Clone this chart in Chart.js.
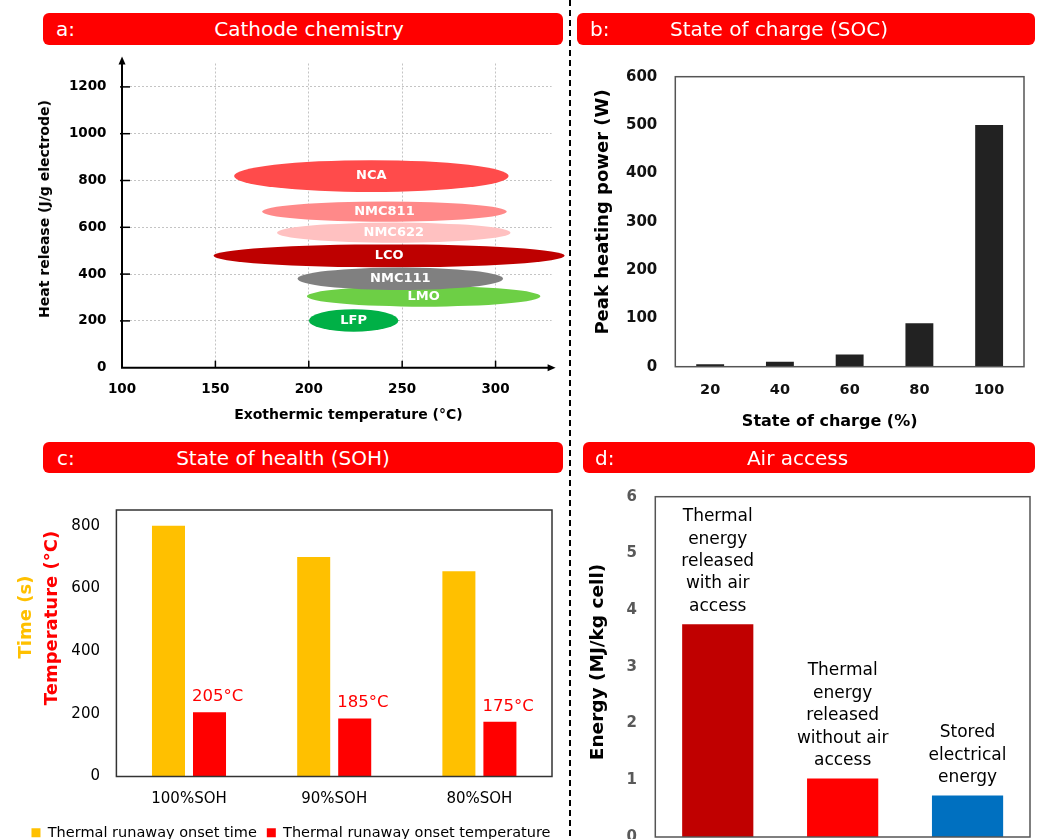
<!DOCTYPE html>
<html><head><meta charset="utf-8">
<script src="https://cdn.jsdelivr.net/npm/chart.js@4.4.1/dist/chart.umd.min.js"></script>
<style>
html,body{margin:0;padding:0;background:#fff;}
body{width:1038px;height:839px;position:relative;overflow:hidden;font-family:"DejaVu Sans",sans-serif;}
canvas{position:absolute;}
.hdr{position:absolute;background:#FF0000;border-radius:6px;}
.txt{position:absolute;white-space:nowrap;line-height:1;}
.hl{color:#fff;font-size:20px;transform:translateY(-50%);}
.ht{color:#fff;font-size:20px;transform:translate(-50%,-50%);}
.rot{transform:translate(-50%,-50%) rotate(-90deg);font-weight:bold;color:#000;}
.hz{transform:translate(-50%,-50%);font-weight:bold;color:#000;}
#dv{position:absolute;left:569px;top:0;width:2px;height:839px;background:repeating-linear-gradient(to bottom,#000 0 6px,transparent 6px 10px);}
</style></head><body>
<canvas id="ca" width="570" height="440" style="left:0;top:0;width:570px;height:440px"></canvas>
<canvas id="cb" width="468" height="440" style="left:570px;top:0;width:468px;height:440px"></canvas>
<canvas id="cc" width="570" height="410" style="left:0;top:440px;width:570px;height:410px"></canvas>
<canvas id="cd" width="468" height="399" style="left:570px;top:440px;width:468px;height:399px"></canvas>

<div id="dv"></div>
<div class="hdr" style="left:43px;top:13px;width:520px;height:32px"></div>
<div class="txt hl" style="left:56px;top:29px">a:</div>
<div class="txt ht" style="left:309px;top:29px">Cathode chemistry</div>
<div class="hdr" style="left:577px;top:13px;width:458px;height:32px"></div>
<div class="txt hl" style="left:590px;top:29px">b:</div>
<div class="txt ht" style="left:779px;top:29px">State of charge (SOC)</div>
<div class="hdr" style="left:43px;top:442px;width:520px;height:31px"></div>
<div class="txt hl" style="left:57px;top:457.5px">c:</div>
<div class="txt ht" style="left:283px;top:457.5px">State of health (SOH)</div>
<div class="hdr" style="left:583px;top:442px;width:452px;height:31px"></div>
<div class="txt hl" style="left:595px;top:457.5px">d:</div>
<div class="txt ht" style="left:797.5px;top:457.5px">Air access</div>

<div class="txt rot" style="left:43.6px;top:208.5px;font-size:14px">Heat release (J/g electrode)</div>
<div class="txt hz" style="left:348.4px;top:414px;font-size:14px">Exothermic temperature (°C)</div>
<div class="txt rot" style="left:601.7px;top:211.7px;font-size:18px">Peak heating power (W)</div>
<div class="txt hz" style="left:829.7px;top:420.7px;font-size:16px">State of charge (%)</div>
<div class="txt rot" style="left:24.7px;top:616.7px;font-size:18px;color:#FFC000">Time (s)</div>
<div class="txt rot" style="left:51px;top:617.5px;font-size:18px;color:#FF0000">Temperature (°C)</div>
<div class="txt rot" style="left:596.7px;top:661.7px;font-size:18.5px">Energy (MJ/kg cell)</div>

<script>
// ---- data ----
const cathodes = ['NCA','NMC811','NMC622','LCO','NMC111','LMO','LFP'];
const tempLow  = [160,175,183,149,194,199,200];
const tempHigh = [307,306,308,337,304,324,248];
const heatLow  = [751,624,534,429,332,261,154];
const heatHigh = [887,710,620,527,428,349,250];
const cathodeColors = ['#FF4B4B','#FF8989','#FFC1C1','#BE0000','#808080','#6DCF45','#00B046'];
const drawOrder = [0,1,2,3,5,4,6];
const aXTicks = [100,150,200,250,300];
const aYTicks = [0,200,400,600,800,1000,1200];

const socLabels = ['20','40','60','80','100'];
const peakPower = [5,10,25,90,500];
const bYTicks = [0,100,200,300,400,500,600];

const sohLabels = ['100%SOH','90%SOH','80%SOH'];
const onsetTime = [800,700,655];
const onsetTemp = [205,185,175];
const cYTicks = [0,200,400,600,800];

const energyLabels = [['Thermal','energy','released','with air','access'],['Thermal','energy','released','without air','access'],['Stored','electrical','energy']];
const energyValues = [3.75,1.03,0.73];
const energyColors = ['#C00000','#FF0000','#0070C0'];
const dYTicks = [0,1,2,3,4,5,6];

// ---- helpers ----
Chart.defaults.font.family = '"DejaVu Sans", sans-serif';
const setTicks = vals => s => { s.ticks = vals.map(v => ({value: v})); };
const fixW = w => s => { s.width = w; s.paddingTop = 0; s.paddingBottom = 0; };
const fixH = h => s => { s.height = h; s.paddingLeft = 0; s.paddingRight = 0; };
const boxPlugin = (color, w) => ({id:'box', afterDraw(chart){
  const {ctx, chartArea:{left,top,right,bottom}} = chart;
  ctx.save(); ctx.strokeStyle = color; ctx.lineWidth = w;
  ctx.strokeRect(left, top, right-left, bottom-top); ctx.restore();
}});
const common = {responsive:false, animation:false, devicePixelRatio:1, events:[]};
const noGrid = {display:false, drawTicks:false};

// ---- panel a ----
const ellipsePlugin = {id:'ellipses', afterDatasetsDraw(chart){
  const {ctx, scales:{x, y}} = chart;
  ctx.save();
  drawOrder.forEach(i => {
    const x1 = x.getPixelForValue(tempLow[i]), x2 = x.getPixelForValue(tempHigh[i]);
    const y1 = y.getPixelForValue(heatHigh[i]), y2 = y.getPixelForValue(heatLow[i]);
    ctx.beginPath();
    ctx.ellipse((x1+x2)/2, (y1+y2)/2, (x2-x1)/2, (y2-y1)/2, 0, 0, Math.PI*2);
    ctx.fillStyle = cathodeColors[i]; ctx.fill();
  });
  ctx.font = 'bold 13px "DejaVu Sans"'; ctx.fillStyle = '#fff';
  ctx.textAlign = 'center'; ctx.textBaseline = 'middle';
  cathodes.forEach((c, i) => {
    const cx = x.getPixelForValue((tempLow[i]+tempHigh[i])/2);
    const cy = y.getPixelForValue((heatLow[i]+heatHigh[i])/2);
    ctx.fillText(c, cx, cy);
  });
  ctx.restore();
}};
const axesPlugin = {id:'axesArrows', afterDraw(chart){
  const {ctx, chartArea:{left, bottom}, scales:{x, y}} = chart;
  const top = y.getPixelForValue(1300) - 7;
  const right = x.getPixelForValue(330) + 4;
  ctx.save(); ctx.strokeStyle = '#000'; ctx.fillStyle = '#000'; ctx.lineWidth = 2;
  ctx.beginPath(); ctx.moveTo(left, bottom+1); ctx.lineTo(left, top+6);
  ctx.moveTo(left-1, bottom); ctx.lineTo(right-6, bottom); ctx.stroke();
  ctx.beginPath(); ctx.moveTo(left, top); ctx.lineTo(left-3.5, top+8); ctx.lineTo(left+3.5, top+8); ctx.closePath(); ctx.fill();
  ctx.beginPath(); ctx.moveTo(right, bottom); ctx.lineTo(right-8, bottom-3.5); ctx.lineTo(right-8, bottom+3.5); ctx.closePath(); ctx.fill();
  ctx.lineWidth = 1.5;
  aXTicks.slice(1).forEach(v => { const px = x.getPixelForValue(v); ctx.beginPath(); ctx.moveTo(px, bottom); ctx.lineTo(px, bottom-7); ctx.stroke(); });
  aYTicks.slice(1).forEach(v => { const py = y.getPixelForValue(v); ctx.beginPath(); ctx.moveTo(left-2, py); ctx.lineTo(left+8, py); ctx.stroke(); });
  ctx.restore();
}};
new Chart(document.getElementById('ca'), {
  type:'scatter',
  data:{datasets:[{data: cathodes.map((_, i) => ({x:(tempLow[i]+tempHigh[i])/2, y:(heatLow[i]+heatHigh[i])/2})), pointRadius:0}]},
  options: Object.assign({}, common, {
    layout:{padding:{top:63.5, right:18.4, left:0, bottom:0}},
    plugins:{legend:{display:false}, tooltip:{enabled:false}},
    scales:{
      x:{type:'linear', min:100, max:330, afterBuildTicks:setTicks(aXTicks), afterFit:fixH(72.3),
        grid:{color:'#c4c4c4', lineWidth:1, drawTicks:false}, border:{display:false, dash:[2,2]},
        ticks:{padding:13.5, color:'#000', callback:v=>String(v), font:{weight:'bold', size:13.5}}},
      y:{type:'linear', min:0, max:1300, afterBuildTicks:setTicks(aYTicks), afterFit:fixW(122),
        grid:{color:'#c4c4c4', lineWidth:1, drawTicks:false}, border:{display:false, dash:[2,2]},
        ticks:{padding:15.5, color:'#000', callback:v=>String(v), font:{weight:'bold', size:13.5}}}
    }
  }),
  plugins:[ellipsePlugin, axesPlugin]
});

// ---- panel b ----
new Chart(document.getElementById('cb'), {
  type:'bar',
  data:{labels:socLabels, datasets:[{data:peakPower, backgroundColor:'#222222', categoryPercentage:1, barPercentage:0.4}]},
  options: Object.assign({}, common, {
    layout:{padding:{top:76.7, right:14, left:0, bottom:0}},
    plugins:{legend:{display:false}, tooltip:{enabled:false}},
    scales:{
      x:{afterFit:fixH(73.3), grid:noGrid, border:{display:false},
        ticks:{padding:14.6, color:'#111', font:{weight:'bold', size:14.5}}},
      y:{min:0, max:600, afterBuildTicks:setTicks(bYTicks), afterFit:fixW(105.3), grid:noGrid, border:{display:false},
        ticks:{padding:18, color:'#111', font:{weight:'bold', size:15}}}
    }
  }),
  plugins:[boxPlugin('#555', 1.5)]
});

// ---- panel c ----
const tempLabelPlugin = {id:'tempLabels', afterDatasetsDraw(chart){
  const {ctx} = chart; const meta = chart.getDatasetMeta(1);
  ctx.save(); ctx.font = '16.5px "DejaVu Sans"'; ctx.fillStyle = '#FF0000';
  ctx.textAlign = 'left'; ctx.textBaseline = 'alphabetic';
  meta.data.forEach((bar, i) => ctx.fillText(onsetTemp[i] + '°C', bar.x - bar.width/2 - 1, bar.y - 11));
  ctx.restore();
}};
new Chart(document.getElementById('cc'), {
  type:'bar',
  data:{labels:sohLabels, datasets:[
    {label:'Thermal runaway onset time', data:onsetTime, backgroundColor:'#FFC000', categoryPercentage:0.565, barPercentage:0.805},
    {label:'Thermal runaway onset temperature', data:onsetTemp, backgroundColor:'#FF0000', categoryPercentage:0.565, barPercentage:0.805}
  ]},
  options: Object.assign({}, common, {
    layout:{padding:{top:70, right:0, left:12, bottom:0}},
    plugins:{tooltip:{enabled:false},
      legend:{display:true, position:'bottom', labels:{boxWidth:9, boxHeight:9, padding:10, color:'#000', font:{size:14.5}}}},
    scales:{
      x:{afterFit:fixH(39), grid:noGrid, border:{display:false},
        ticks:{padding:13.3, color:'#000', font:{size:15}}},
      y:{min:0, max:850, afterBuildTicks:setTicks(cYTicks), afterFit:fixW(104.4), grid:noGrid, border:{display:false},
        ticks:{padding:16.4, color:'#000', font:{size:15}}},
      yr:{position:'right', display:true, afterFit:fixW(18), grid:noGrid, border:{display:false}, ticks:{display:false}}
    }
  }),
  plugins:[tempLabelPlugin, boxPlugin('#333', 1.5)]
});

// ---- panel d ----
const energyLabelPlugin = {id:'energyLabels', afterDatasetsDraw(chart){
  const {ctx} = chart; const meta = chart.getDatasetMeta(0);
  ctx.save(); ctx.font = '17px "DejaVu Sans"'; ctx.fillStyle = '#000';
  ctx.textAlign = 'center'; ctx.textBaseline = 'alphabetic';
  meta.data.forEach((bar, i) => {
    const lines = energyLabels[i];
    lines.forEach((t, j) => ctx.fillText(t, bar.x, bar.y - 13.5 - (lines.length-1-j)*22.4));
  });
  ctx.restore();
}};
new Chart(document.getElementById('cd'), {
  type:'bar',
  data:{labels:energyLabels.map(l => l.join(' ')), datasets:[{data:energyValues, backgroundColor:energyColors, categoryPercentage:1, barPercentage:0.57}]},
  options: Object.assign({}, common, {
    layout:{padding:{top:56.7, right:8, left:0, bottom:0}},
    plugins:{legend:{display:false}, tooltip:{enabled:false}},
    scales:{
      x:{afterFit:fixH(2), grid:noGrid, border:{display:false}, ticks:{display:false}},
      y:{min:0, max:6, afterBuildTicks:setTicks(dYTicks), afterFit:fixW(85.3), grid:noGrid, border:{display:false},
        ticks:{padding:18.3, color:'#595959', font:{weight:'bold', size:15}}}
    }
  }),
  plugins:[energyLabelPlugin, boxPlugin('#555', 1.5)]
});
</script>
</body></html>
